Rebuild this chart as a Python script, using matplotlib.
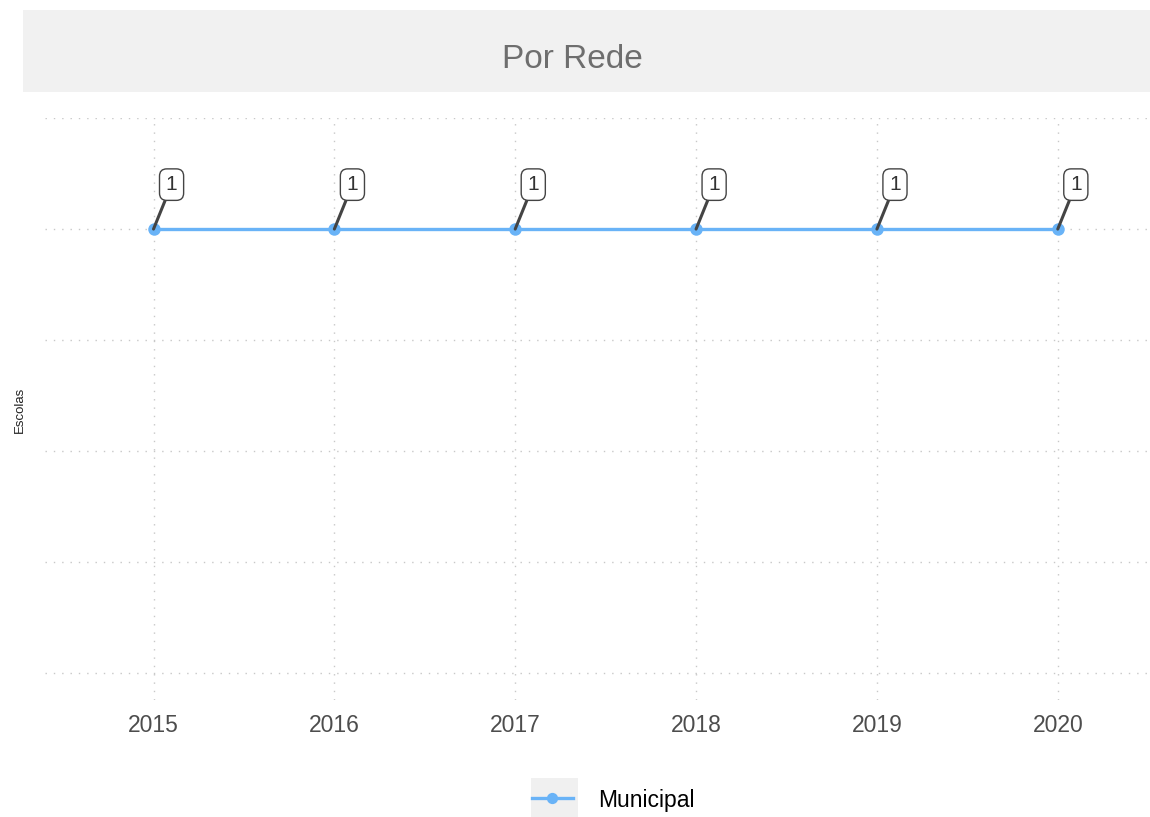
import matplotlib
matplotlib.use("Agg")
import matplotlib.pyplot as plt
from matplotlib.patches import Rectangle

plt.rcParams["font.family"] = ["Liberation Sans", "DejaVu Sans"]

# escolas por rede, por ano
anos = [2015, 2016, 2017, 2018, 2019, 2020]
municipal = [1, 1, 1, 1, 1, 1]
serie_nome = "Municipal"
titulo = "Por Rede"
y_titulo = "Escolas"

W, H = 1150, 817
fig = plt.figure(figsize=(W / 100, H / 100), dpi=100)

# faixa cinza do titulo
fig.patches.append(Rectangle((23 / W, (H - 92) / H), (W - 23) / W, 82 / H,
                             transform=fig.transFigure, facecolor="#f1f1f1",
                             edgecolor="none", zorder=0))
fig.text(572 / W, (H - 59) / H, titulo, ha="center", va="center",
         fontsize=24, color="#6e6e6e")

ax = fig.add_axes([45 / W, (H - 700) / H, (W - 45) / W, (700 - 118) / H])
cor = "#69b3f7"
ax.plot(anos, municipal, color=cor, lw=2.4, marker="o", ms=9,
        markeredgewidth=0, label=serie_nome, zorder=3)

for x, y in zip(anos, municipal):
    ax.annotate(str(y), xy=(x, y), xytext=(13, 32), textcoords="offset points",
                ha="center", va="center", fontsize=15, color="#333333",
                bbox=dict(boxstyle="round,pad=0.3,rounding_size=0.35",
                          fc="white", ec="#444444", lw=1),
                arrowprops=dict(arrowstyle="-", color="#444444", lw=2.2,
                                shrinkA=0, shrinkB=0),
                zorder=4)

ax.set_xlim(2014.40, 2020.51)
ax.set_ylim(0.152, 1.2)
ax.set_xticks(anos)
ax.set_yticks([0.2, 0.4, 0.6, 0.8, 1.0, 1.2])
ax.set_yticklabels([])
ax.tick_params(axis="both", length=0, pad=10)
ax.tick_params(axis="x", labelsize=16.5, labelcolor="#4d4d4d")
ax.grid(True, color="#c8c8c8", lw=1, linestyle=(0, (1, 5)))
ax.set_axisbelow(True)
for s in ax.spines.values():
    s.set_visible(False)
fig.text(20 / W, (H - 410) / H, y_titulo, rotation=90, ha="center",
         va="center", fontsize=9.5, color="#222222")

# legenda embaixo, com fundo cinza na chave
fig.patches.append(Rectangle((531 / W, (H - 817) / H), 47 / W, 39 / H,
                             transform=fig.transFigure, facecolor="#f0f0f0",
                             edgecolor="none", zorder=0))
h, l = ax.get_legend_handles_labels()
fig.legend(h, l, loc="center", bbox_to_anchor=(613 / W, (H - 800) / H),
           frameon=False, fontsize=16.5, handlelength=1.8, handletextpad=1.1,
           markerscale=0.9)

fig.savefig("out.png", dpi=100)
